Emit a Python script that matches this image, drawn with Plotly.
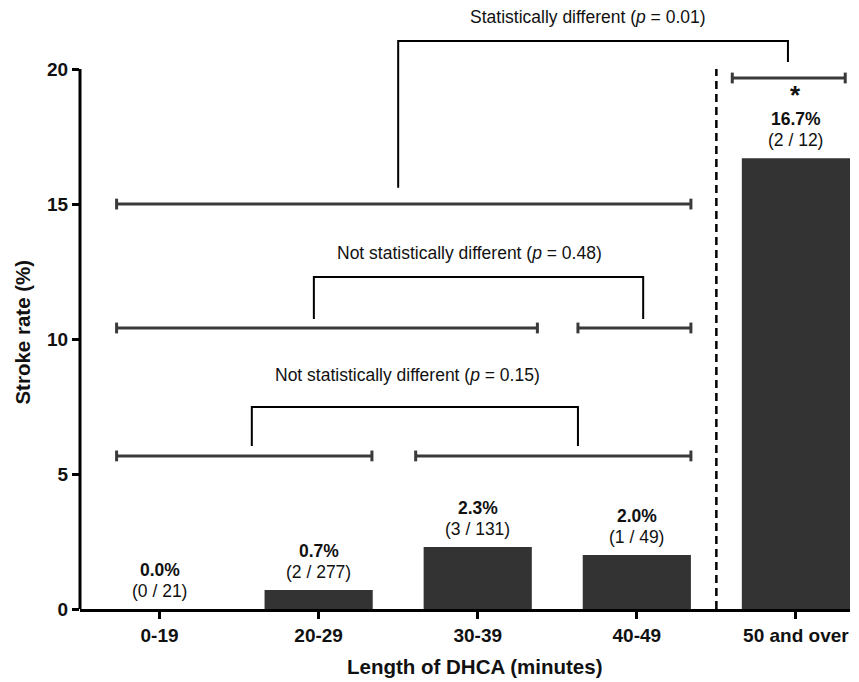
import plotly.graph_objects as go

# ---- data ----
categories = ["0-19", "20-29", "30-39", "40-49", "50 and over"]
stroke_rate = [0.0, 0.7, 2.3, 2.0, 16.7]
pct_labels = ["0.0%", "0.7%", "2.3%", "2.0%", "16.7%"]
count_labels = ["(0 / 21)", "(2 / 277)", "(3 / 131)", "(1 / 49)", "(2 / 12)"]
y_ticks = [0, 5, 10, 15, 20]
x_title = "Length of DHCA (minutes)"
y_title = "Stroke rate (%)"

# group spans (x start, x end, y level) in category-index units
group_spans = [(-0.27, 1.335, 5.67), (1.61, 3.34, 5.67),
               (-0.27, 2.375, 10.41), (2.63, 3.34, 10.41),
               (-0.27, 3.34, 15.0), (3.60, 4.31, 19.67)]
# comparison brackets (x left, x right, y left foot, y right foot, y top)
brackets = [(0.58, 2.63, 6.04, 6.04, 7.48),
            (0.97, 3.04, 10.74, 10.74, 12.3),
            (1.50, 3.95, 15.6, 20.26, 21.04)]
bracket_texts = ["Not statistically different (<i>p</i> = 0.15)",
                 "Not statistically different (<i>p</i> = 0.48)",
                 "Statistically different (<i>p</i> = 0.01)"]
bracket_text_pos = [(1.556, 8.67), (1.95, 13.19), (2.69, 21.93)]
divider_x = 3.5
star_index = 4

FONT = "Liberation Sans, Arial, sans-serif"
DARK = "#333333"

fig = go.Figure()
fig.add_trace(go.Bar(x=categories, y=stroke_rate, width=0.68,
                     marker=dict(color=DARK, line=dict(width=0)),
                     showlegend=False, hoverinfo="skip"))

shapes = []
# y axis line (0..20)
shapes.append(dict(type="line", xref="paper", yref="y", x0=0, x1=0, y0=0, y1=20,
                   line=dict(color="black", width=3)))
# dashed divider
shapes.append(dict(type="line", xref="x", yref="y", x0=divider_x, x1=divider_x, y0=0, y1=20,
                   line=dict(color="black", width=2.5, dash="8px,5px")))
cap = 0.2
for x0, x1, yv in group_spans:
    shapes.append(dict(type="line", xref="x", yref="y", x0=x0, x1=x1, y0=yv, y1=yv,
                       line=dict(color="#3a3a3a", width=3)))
    for xc in (x0, x1):
        shapes.append(dict(type="line", xref="x", yref="y", x0=xc, x1=xc, y0=yv - cap, y1=yv + cap,
                           line=dict(color="#3a3a3a", width=3)))
for xl, xr, yl, yr, yt in brackets:
    shapes.append(dict(type="path", xref="x", yref="y",
                       path=f"M {xl},{yl} L {xl},{yt} L {xr},{yt} L {xr},{yr}",
                       line=dict(color="black", width=2)))

annotations = []
for i, (p, c, v) in enumerate(zip(pct_labels, count_labels, stroke_rate)):
    annotations.append(dict(x=i, y=v, xref="x", yref="y", text=f"<b>{p}</b>",
                            showarrow=False, yanchor="middle", yshift=39,
                            font=dict(family=FONT, size=17.5, color="#111")))
    annotations.append(dict(x=i, y=v, xref="x", yref="y", text=c,
                            showarrow=False, yanchor="middle", yshift=18,
                            font=dict(family=FONT, size=17.5, color="#111")))
annotations.append(dict(x=star_index, y=stroke_rate[star_index], xref="x", yref="y",
                        text="<b>*</b>", showarrow=False, yanchor="middle", yshift=63,
                        font=dict(family=FONT, size=26, color="#111")))
for t, (tx, ty) in zip(bracket_texts, bracket_text_pos):
    annotations.append(dict(x=tx, y=ty, xref="x", yref="y", text=t, showarrow=False,
                            yanchor="middle", font=dict(family=FONT, size=17.5, color="#111")))
# axis titles
annotations.append(dict(x=0.5117, y=-0.0963, xref="paper", yref="paper",
                        text=f"<b>{x_title}</b>", showarrow=False,
                        xanchor="center", yanchor="middle",
                        font=dict(family=FONT, size=20.5, color="#111")))
annotations.append(dict(x=-0.0747, y=0.46, xref="paper", yref="paper",
                        text=f"<b>{y_title}</b>", showarrow=False, textangle=-90,
                        xanchor="center", yanchor="middle",
                        font=dict(family=FONT, size=20.5, color="#111")))

fig.update_layout(
    width=859, height=682,
    margin=dict(l=80, r=9, t=7, b=73),
    paper_bgcolor="white", plot_bgcolor="white",
    font=dict(family=FONT, color="#111"),
    shapes=shapes, annotations=annotations,
    bargap=0.32,
    xaxis=dict(range=[-0.5, 4.34], showline=True, linecolor="black", linewidth=3,
               ticks="outside", ticklen=7, tickwidth=3, tickcolor="black",
               tickfont=dict(family=FONT, size=19, color="#111", weight="bold"),
               showgrid=False, zeroline=False),
    yaxis=dict(range=[0, 22.3], tickvals=y_ticks, showline=False,
               ticks="outside", ticklen=7, tickwidth=3, tickcolor="black",
               tickfont=dict(family=FONT, size=19, color="#111", weight="bold"),
               showgrid=False, zeroline=False),
)

fig.write_html("out.html", config={"displayModeBar": False},
               post_script="document.body.style.margin='0';")
